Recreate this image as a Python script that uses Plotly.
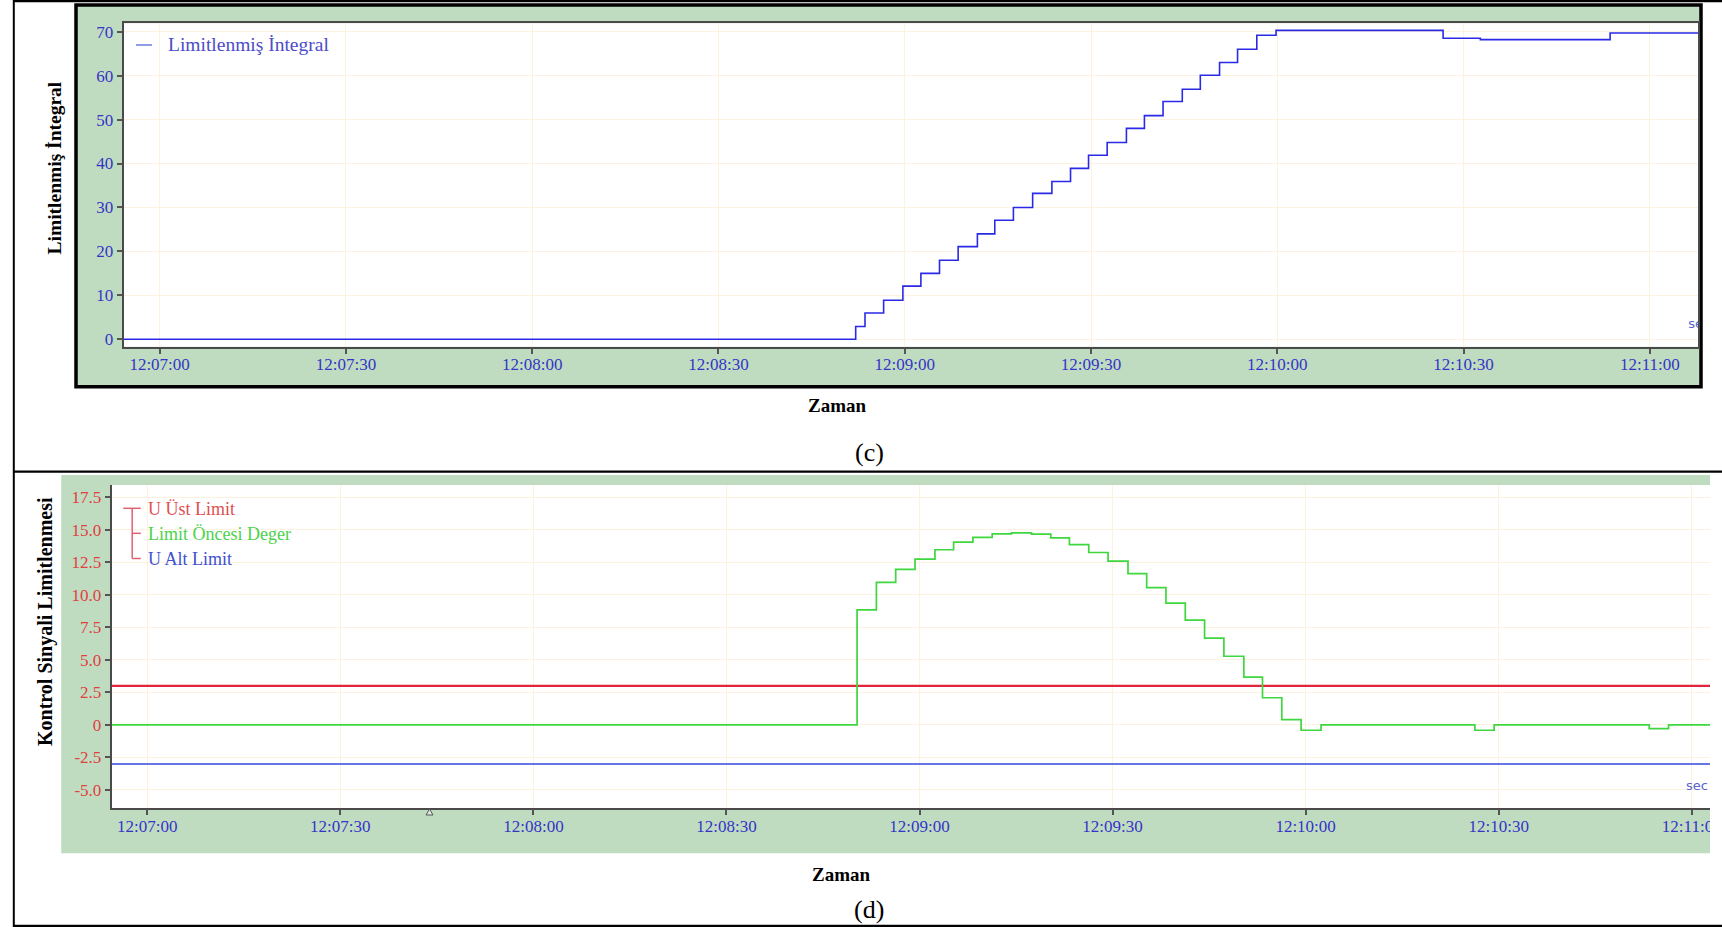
import plotly.graph_objects as go

# ---------------------------------------------------------------- data
DAY = "2024-01-01 "

# (c) limited integral, stepwise samples (time, value)
INTEGRAL_TIME = [
    "12:06:54", "12:08:52.1", "12:08:53.6", "12:08:56.6", "12:08:59.7",
    "12:09:02.6", "12:09:05.6", "12:09:08.6", "12:09:11.7", "12:09:14.5",
    "12:09:17.5", "12:09:20.6", "12:09:23.7", "12:09:26.7", "12:09:29.6",
    "12:09:32.6", "12:09:35.7", "12:09:38.6", "12:09:41.6", "12:09:44.7",
    "12:09:47.6", "12:09:50.7", "12:09:53.6", "12:09:56.7", "12:09:59.8",
    "12:10:26.7", "12:10:32.7", "12:10:53.6", "12:11:08",
]
INTEGRAL_VALUE = [
    0, 2.9, 6.0, 8.9, 12.1,
    15.0, 18.0, 21.1, 24.0, 27.1,
    30.0, 33.2, 35.9, 38.9, 41.9,
    44.8, 48.0, 50.9, 54.1, 56.9,
    60.1, 63.0, 66.0, 69.2, 70.3,
    68.5, 68.2, 69.7, 69.7,
]

# (d) control signal before limiting, stepwise samples
PRE_LIMIT_TIME = [
    "12:06:54", "12:08:50.3", "12:08:53.3", "12:08:56.3", "12:08:59.3",
    "12:09:02.4", "12:09:05.3", "12:09:08.3", "12:09:11.3", "12:09:14.3",
    "12:09:17.4", "12:09:20.4", "12:09:23.3", "12:09:26.3", "12:09:29.3",
    "12:09:32.4", "12:09:35.3", "12:09:38.3", "12:09:41.3", "12:09:44.3",
    "12:09:47.3", "12:09:50.4", "12:09:53.3", "12:09:56.3", "12:09:59.3",
    "12:10:02.4", "12:10:26.3", "12:10:29.3", "12:10:53.4", "12:10:56.4",
    "12:11:03",
]
PRE_LIMIT_VALUE = [
    0, 8.85, 10.97, 11.96, 12.75,
    13.47, 14.05, 14.43, 14.69, 14.77,
    14.67, 14.38, 13.87, 13.26, 12.6,
    11.63, 10.56, 9.37, 8.06, 6.68,
    5.28, 3.67, 2.09, 0.41, -0.41,
    0, -0.41, 0, -0.28, 0,
    0,
]

LIMIT_SPAN = ["12:06:54", "12:11:03"]
UPPER_LIMIT = [3.0, 3.0]
LOWER_LIMIT = [-3.0, -3.0]

X_TICK_START = "12:07:00"
Y1_TICK_STEP = 10
Y2_TICK_VALUES = [17.5, 15.0, 12.5, 10.0, 7.5, 5.0, 2.5, 0, -2.5, -5.0]
Y2_TICK_LABELS = ["17.5", "15.0", "12.5", "10.0", "7.5", "5.0", "2.5", "0", "-2.5", "-5.0"]

SERIES_NAMES = ["Limitlenmiş İntegral", "U Üst Limit", "Limit Öncesi Deger", "U Alt Limit"]

# ---------------------------------------------------------------- style
W, H = 1722, 927
SERIF = "Liberation Serif, Times New Roman, serif"
PANEL_GREEN = "#C0DCC0"
GRID = "#fcf2df"
AXIS_LINE = "#4a4a4a"
LABEL_BLUE = "#3434c8"
LABEL_RED = "#e04040"
C_INTEGRAL = "#2a2ae6"
C_UPPER = "#e3243e"
C_PRE = "#3fd63f"
C_LOWER = "#3347dd"


def px(x):
    return x / W


def py(y):
    return 1 - y / H


def t(s):
    return DAY + s


fig = go.Figure()

# (c) limited integral
fig.add_trace(go.Scatter(
    x=[t(s) for s in INTEGRAL_TIME], y=INTEGRAL_VALUE, name=SERIES_NAMES[0],
    mode="lines", line=dict(color=C_INTEGRAL, width=1.6, shape="hv"),
    xaxis="x", yaxis="y", showlegend=False,
))
fig.add_trace(go.Scatter(
    x=[t("12:11:06.2")], y=[3.25], text=["sec"], mode="text",
    textposition="middle right",
    textfont=dict(family="DejaVu Sans, sans-serif", size=13, color="#5566cc"),
    xaxis="x", yaxis="y", showlegend=False, hoverinfo="skip",
))

# (d) limits and pre-limit signal
fig.add_trace(go.Scatter(
    x=[t(s) for s in LIMIT_SPAN], y=UPPER_LIMIT, name=SERIES_NAMES[1],
    mode="lines", line=dict(color=C_UPPER, width=2.2),
    xaxis="x2", yaxis="y2", showlegend=False,
))
fig.add_trace(go.Scatter(
    x=[t(s) for s in PRE_LIMIT_TIME], y=PRE_LIMIT_VALUE, name=SERIES_NAMES[2],
    mode="lines", line=dict(color=C_PRE, width=1.7, shape="hv"),
    xaxis="x2", yaxis="y2", showlegend=False,
))
fig.add_trace(go.Scatter(
    x=[t(s) for s in LIMIT_SPAN], y=LOWER_LIMIT, name=SERIES_NAMES[3],
    mode="lines", line=dict(color=C_LOWER, width=1.4),
    xaxis="x2", yaxis="y2", showlegend=False,
))
fig.add_trace(go.Scatter(
    x=[t("12:10:59.1")], y=[-4.74], text=["sec"], mode="text",
    textposition="middle right",
    textfont=dict(family="DejaVu Sans, sans-serif", size=13, color="#5566cc"),
    xaxis="x2", yaxis="y2", showlegend=False, hoverinfo="skip",
))

x_common = dict(
    type="date", tickformat="%H:%M:%S", dtick=30000, tick0=t(X_TICK_START),
    ticks="outside", ticklen=5, tickwidth=1.5, tickcolor="#555555",
    showline=True, linecolor=AXIS_LINE, linewidth=2,
    showgrid=True, gridcolor=GRID, gridwidth=1, zeroline=False,
    ticklabelstandoff=-4,
    tickfont=dict(family=SERIF, size=17, color=LABEL_BLUE), automargin=False,
)
y_common = dict(
    ticks="outside", ticklen=5, tickwidth=1.5, tickcolor="#555555",
    showline=True, linecolor=AXIS_LINE, linewidth=2,
    showgrid=True, gridcolor=GRID, gridwidth=1, zeroline=False, automargin=False,
)

fig.update_layout(
    width=W, height=H, margin=dict(l=0, r=0, t=0, b=0),
    paper_bgcolor="white", plot_bgcolor="rgba(0,0,0,0)",
    xaxis=dict(x_common, domain=[px(123.6), px(1698.3)], anchor="y", mirror=True,
               range=[t("12:06:54.2"), t("12:11:07.8")]),
    yaxis=dict(y_common, domain=[py(346.7), py(23.3)], anchor="x", mirror=True,
               range=[-1.68, 71.91], dtick=Y1_TICK_STEP, tick0=0,
               tickfont=dict(family=SERIF, size=17, color=LABEL_BLUE)),
    xaxis2=dict(x_common, domain=[px(111.7), px(1710)], anchor="y2",
                range=[t("12:06:54.47"), t("12:11:02.84")]),
    yaxis2=dict(y_common, domain=[py(808.3), py(485)], anchor="x2",
                range=[-6.41, 18.45], tickvals=Y2_TICK_VALUES, ticktext=Y2_TICK_LABELS,
                tickfont=dict(family=SERIF, size=17, color=LABEL_RED)),
)


def rect(x0, y0, x1, y1, **kw):
    return dict(type="rect", xref="paper", yref="paper",
                x0=px(x0), x1=px(x1), y0=py(y1), y1=py(y0), **kw)


def seg(x0, y0, x1, y1, color, width):
    return dict(type="line", xref="paper", yref="paper",
                x0=px(x0), x1=px(x1), y0=py(y0), y1=py(y1),
                line=dict(color=color, width=width))


shapes = [
    # panel backgrounds
    rect(76, 5, 1701, 386.7, fillcolor=PANEL_GREEN, line=dict(color="black", width=3.5), layer="below"),
    rect(123.6, 23.3, 1698.3, 346.7, fillcolor="white", line=dict(width=0), layer="below"),
    rect(61.2, 475, 1710, 853.3, fillcolor=PANEL_GREEN, line=dict(width=0), layer="below"),
    rect(111.7, 485, 1710, 808.3, fillcolor="white", line=dict(width=0), layer="below"),
    # page frame
    seg(13, 1.2, 1722, 1.2, "black", 2.2),
    seg(13.8, 0, 13.8, 927, "black", 2),
    seg(13, 471.7, 1722, 471.7, "black", 2.2),
    seg(13, 925.8, 1722, 925.8, "black", 2.2),
    # right edge of the lower panel trims the last tick label
    rect(1710, 474, 1722, 860, fillcolor="white", line=dict(width=0), layer="above"),
    # legend key of (c)
    seg(136, 45, 152, 45, "#7385e0", 1.6),
    # bracket key of (d)
    seg(123.2, 508.3, 140.8, 508.3, "#e06070", 1.5),
    seg(132.2, 508.3, 132.2, 558.5, "#e06070", 1.5),
    seg(132.2, 533.3, 140.8, 533.3, "#e06070", 1.5),
    seg(132.2, 558.5, 140.8, 558.5, "#e06070", 1.5),
    # small marker under the lower time axis
    dict(type="path", xref="paper", yref="paper",
         path=f"M {px(426)},{py(815)} L {px(429.5)},{py(809)} L {px(433)},{py(815)} Z",
         line=dict(color="#555555", width=1), fillcolor="#dfe9df", layer="above"),
]
fig.update_layout(shapes=shapes)


def note(x, y, text, size, color="black", angle=0, xanchor="center"):
    return dict(xref="paper", yref="paper", x=px(x), y=py(y), text=text,
                showarrow=False, textangle=angle, xanchor=xanchor, yanchor="middle",
                font=dict(family=SERIF, size=size, color=color))


annotations = [
    note(53.5, 168, "<b>Limitlenmiş İntegral</b>", 19.5, angle=-90),
    note(837.5, 405, "<b>Zaman</b>", 19),
    note(869.5, 452, "(c)", 26),
    note(166, 45, SERIES_NAMES[0], 19.5, color="#4c4cc8", xanchor="left"),
    note(45, 622, "<b>Kontrol Sinyali Limitlenmesi</b>", 20, angle=-90),
    note(841, 874, "<b>Zaman</b>", 19),
    note(869, 909, "(d)", 26),
    note(145.5, 509.3, SERIES_NAMES[1], 18, color="#e05050", xanchor="left"),
    note(145.5, 534.3, SERIES_NAMES[2], 18, color="#4cd24c", xanchor="left"),
    note(145.5, 559.3, SERIES_NAMES[3], 18, color="#4050d0", xanchor="left"),
]
fig.update_layout(annotations=annotations)

fig.write_html("out.html")
